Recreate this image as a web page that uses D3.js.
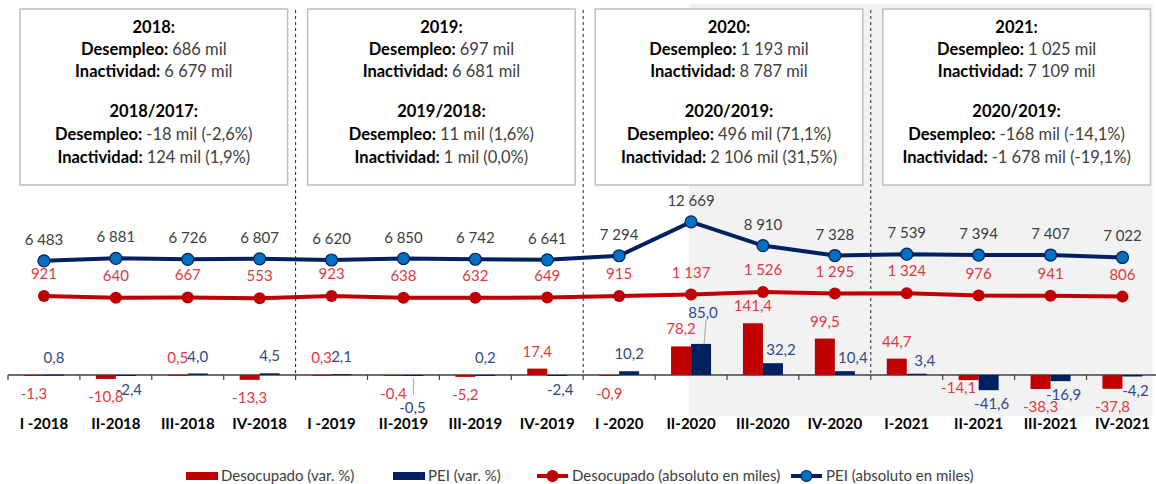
<!DOCTYPE html>
<html><head><meta charset="utf-8">
<script src="https://cdn.jsdelivr.net/npm/d3@7"></script>
<style>
body{margin:0;background:#fff}
svg{display:block}
text{font-family:Lato,"Open Sans",sans-serif}
</style>
</head><body><svg id="c" width="1156" height="484"></svg>
<script>
// ---------- data ----------
const categories = ["I -2018","II-2018","III-2018","IV-2018","I -2019","II-2019","III-2019","IV-2019",
                    "I -2020","II-2020","III-2020","IV-2020","I-2021","II-2021","III-2021","IV-2021"];
const desocVar = [-1.3,-10.8,0.5,-13.3,0.3,-0.4,-5.2,17.4,-0.9,78.2,141.4,99.5,44.7,-14.1,-38.3,-37.8];
const peiVar   = [0.8,-2.4,4.0,4.5,2.1,-0.5,0.2,-2.4,10.2,85.0,32.2,10.4,3.4,-41.6,-16.9,-4.2];
const desocAbs = [921,640,667,553,923,638,632,649,915,1137,1526,1295,1324,976,941,806];
const peiAbs   = [6483,6881,6726,6807,6620,6850,6742,6641,7294,12669,8910,7328,7539,7394,7407,7022];

const boxYears          = ["2018:","2019:","2020:","2021:"];
const boxDesempleo      = ["686 mil","697 mil","1 193 mil","1 025 mil"];
const boxInactividad    = ["6 679 mil","6 681 mil","8 787 mil","7 109 mil"];
const boxCompare        = ["2018/2017:","2019/2018:","2020/2019:","2020/2019:"];
const boxDesempleoVar   = ["-18 mil (-2,6%)","11 mil (1,6%)","496 mil (71,1%)","-168 mil (-14,1%)"];
const boxInactividadVar = ["124 mil (1,9%)","1 mil (0,0%)","2 106 mil (31,5%)","-1 678 mil (-19,1%)"];

const legendLabels = ["Desocupado (var. %)","PEI (var. %)","Desocupado (absoluto en miles)","PEI (absoluto en miles)"];
const calloutCats = ["II-2019","II-2020"]; // blue labels drawn with leader lines
const liftedRedCats = ["II-2021"];         // red label tucked under its bar

// ---------- setup ----------
const svg = d3.select("#c");
const loc = d3.formatLocale({decimal:",", thousands:" ", grouping:[3], currency:["",""], minus:"-"});
const fInt = loc.format(",.0f"), fDec = loc.format(".1f");

const RED="#C00000", NAVY="#002060", MBLUE="#0070C0", REDTXT="#E0393E", BLUETXT="#2F4A8A", GRAYTXT="#404040";

const x = d3.scaleBand().domain(categories).range([8, 1158.4]).padding(0);
const bw = x.bandwidth();
const xc = c => x(c) + bw/2;
const yBar = d3.scaleLinear().domain([-60,160]).range([396.9, 316.5]);
const yAbs = d3.scaleLinear().domain([0,14000]).range([301.7, 213.5]);
const y0 = yBar(0);

// grey shaded area
svg.append("rect").attr("x", xc("II-2020")-2).attr("y",4)
  .attr("width", 1153 - xc("II-2020")+2).attr("height", 412).attr("fill","#F2F2F2");

// dashed separators
[4,8,12].forEach(i=>{
  svg.append("line").attr("x1",x(categories[i])).attr("x2",x(categories[i]))
    .attr("y1",10).attr("y2",373).attr("stroke","#222").attr("stroke-width",1)
    .attr("stroke-dasharray","3,3");
});

// boxes
boxYears.forEach((yr,i)=>{
  const l = x(categories[i*4]) + 12, r = x(categories[i*4+3]) + bw - 8;
  const g = svg.append("g");
  g.append("rect").attr("x",l).attr("y",9).attr("width",r-l).attr("height",176)
    .attr("fill","#fff").attr("stroke","#BFBFBF").attr("stroke-width",1.5);
  const cx=(l+r)/2;
  const lines = [
    [yr,"",33],
    ["Desempleo: ",boxDesempleo[i],55],
    ["Inactividad: ",boxInactividad[i],77],
    [boxCompare[i],"",117],
    ["Desempleo: ",boxDesempleoVar[i],140],
    ["Inactividad: ",boxInactividadVar[i],163]
  ];
  lines.forEach(([b,v,yy])=>{
    const t = g.append("text").attr("x",cx).attr("y",yy).attr("text-anchor","middle")
      .attr("font-size",16.5);
    t.append("tspan").attr("font-weight","bold").attr("fill","#000").text(b);
    if(v) t.append("tspan").attr("fill",GRAYTXT).text(v);
  });
});

// axis line and ticks
svg.append("line").attr("x1",8).attr("x2",1158).attr("y1",y0).attr("y2",y0)
  .attr("stroke","#404040").attr("stroke-width",1.5);
svg.selectAll(".tk").data(categories.concat(["__end"])).join("line")
  .attr("x1",(d,i)=>8+i*bw).attr("x2",(d,i)=>8+i*bw)
  .attr("y1",y0).attr("y2",y0+5).attr("stroke","#404040").attr("stroke-width",1.2);

// bars
svg.selectAll(".rb").data(categories).join("rect")
  .attr("x",c=>xc(c)-20).attr("width",20)
  .attr("y",(c,i)=>Math.min(yBar(desocVar[i]),y0))
  .attr("height",(c,i)=>Math.max(Math.abs(yBar(desocVar[i])-y0),1))
  .attr("fill",RED);
svg.selectAll(".bb").data(categories).join("rect")
  .attr("x",c=>xc(c)).attr("width",20)
  .attr("y",(c,i)=>Math.min(yBar(peiVar[i]),y0))
  .attr("height",(c,i)=>Math.max(Math.abs(yBar(peiVar[i])-y0),1))
  .attr("fill",NAVY);

// bar labels (y = visual centre + 5 for baseline)
categories.forEach((c,i)=>{
  const r = desocVar[i];
  let rx = xc(c)-10, ry;
  if(r>=0) ry = yBar(r)-17+5;
  else if(liftedRedCats.includes(c)){ ry = yBar(r)+8+5; rx -= 10; }
  else ry = yBar(r)+18.5+5;
  svg.append("text").attr("x",rx).attr("y",ry)
    .attr("text-anchor","middle").attr("font-size",15).attr("fill",REDTXT).text(fDec(r));

  const v = peiVar[i];
  let bx = xc(c)+10, by;
  if(v>=0){
    by = yBar(v)-17+5;
    // shift right of a taller red bar when the label would sit on it
    if(!calloutCats.includes(c) && r>0 && yBar(r) < by+2){ bx = xc(c)+18; by = yBar(v)-13+5; }
  } else {
    by = yBar(v)+14+5; bx = xc(c)+13;
  }
  if(calloutCats.includes(c)){
    if(v>=0){
      by -= 14; bx = xc(c)+12;
      svg.append("line").attr("x1",xc(c)+13).attr("x2",xc(c)+15).attr("y1",yBar(v)).attr("y2",by+2)
        .attr("stroke","#A6A6A6").attr("stroke-width",1);
    } else {
      by = y0+38; bx = xc(c)+9;
      svg.append("line").attr("x1",xc(c)+10).attr("x2",xc(c)+10).attr("y1",y0+3).attr("y2",y0+20)
        .attr("stroke","#A6A6A6").attr("stroke-width",1);
    }
  }
  svg.append("text").attr("x",bx).attr("y",by)
    .attr("text-anchor","middle").attr("font-size",15).attr("fill",BLUETXT).text(fDec(v));
});

// lines
const lineGen = arr => d3.line().x((d,i)=>xc(categories[i])).y(d=>yAbs(d))(arr);
svg.append("path").attr("d",lineGen(desocAbs)).attr("fill","none").attr("stroke",RED).attr("stroke-width",4);
svg.append("path").attr("d",lineGen(peiAbs)).attr("fill","none").attr("stroke",NAVY).attr("stroke-width",4);
svg.selectAll(".rm").data(desocAbs).join("circle")
  .attr("cx",(d,i)=>xc(categories[i])).attr("cy",d=>yAbs(d)).attr("r",6).attr("fill",RED);
svg.selectAll(".bm").data(peiAbs).join("circle")
  .attr("cx",(d,i)=>xc(categories[i])).attr("cy",d=>yAbs(d)).attr("r",6)
  .attr("fill",MBLUE).attr("stroke",NAVY).attr("stroke-width",1.2);

// line labels
desocAbs.forEach((d,i)=>{
  svg.append("text").attr("x",xc(categories[i])).attr("y",yAbs(d)-22+5)
    .attr("text-anchor","middle").attr("font-size",15).attr("fill",REDTXT).text(fInt(d));
});
peiAbs.forEach((d,i)=>{
  svg.append("text").attr("x",xc(categories[i])).attr("y",yAbs(d)-21+5)
    .attr("text-anchor","middle").attr("font-size",15).attr("fill",GRAYTXT).text(fInt(d));
});

// category labels
categories.forEach(c=>{
  svg.append("text").attr("x",xc(c)).attr("y",429).attr("text-anchor","middle")
    .attr("font-size",15).attr("font-weight","bold").attr("fill","#000").text(c);
});

// legend
const lg = svg.append("g").attr("font-size",15);
const ly0 = 476;
const legendX = [186, 393, 537, 791];
legendLabels.forEach((lab,i)=>{
  const lx = legendX[i];
  if(i<2){
    lg.append("rect").attr("x",lx).attr("y",ly0-4).attr("width",32).attr("height",8)
      .attr("fill", i===0?RED:NAVY);
  } else {
    const col = i===2?RED:NAVY;
    lg.append("line").attr("x1",lx).attr("x2",lx+31).attr("y1",ly0).attr("y2",ly0)
      .attr("stroke",col).attr("stroke-width",4);
    lg.append("circle").attr("cx",lx+15.5).attr("cy",ly0).attr("r",5.5)
      .attr("fill", i===2?RED:MBLUE).attr("stroke", i===2?RED:NAVY).attr("stroke-width",1.2);
  }
  lg.append("text").attr("x",lx+35).attr("y",ly0+5).attr("fill",GRAYTXT).text(lab);
});
</script></body></html>
